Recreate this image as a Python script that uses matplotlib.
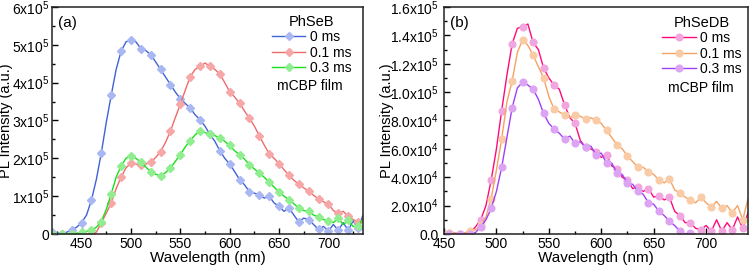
import numpy as np
import matplotlib
matplotlib.use("Agg")
import matplotlib.pyplot as plt
from matplotlib.ticker import MultipleLocator, FuncFormatter

plt.rcParams['font.family'] = ['Liberation Sans', 'DejaVu Sans']
plt.rcParams['mathtext.default'] = 'regular'

# ---- panel (a): PhSeB, intensities in units of 1e5 ----
wl_a = list(range(420, 740, 5))
phseb_0 = [0.05, 0.03, 0.0, 0.05, 0.1, 0.18, 0.3, 0.5, 0.9, 1.45,
           2.15, 2.95, 3.67, 4.35, 4.83, 5.08, 5.13, 5.08, 4.9, 4.85,
           4.74, 4.55, 4.35, 4.15, 3.95, 3.75, 3.58, 3.45, 3.33, 3.15,
           3.02, 2.85, 2.63, 2.45, 2.2, 2.0, 1.85, 1.65, 1.44, 1.3,
           1.12, 1.08, 1.03, 0.95, 1.0, 0.82, 0.73, 0.6, 0.69, 0.5,
           0.32, 0.42, 0.38, 0.25, 0.12, 0.2, 0.08, 0.25, 0.1, 0.3,
           0.1, 0.35, 0.15, 0.5]
phseb_01 = [0.0, 0.0, 0.0, 0.0, 0.0, 0.0, 0.0, 0.0, 0.0, 0.05,
            0.3, 0.55, 0.82, 1.2, 1.5, 1.75, 1.87, 1.85, 1.82, 1.85,
            1.9, 2.02, 2.18, 2.42, 2.72, 3.08, 3.43, 3.8, 4.16, 4.35,
            4.43, 4.52, 4.43, 4.35, 4.23, 4.0, 3.76, 3.62, 3.46, 3.25,
            3.06, 2.85, 2.6, 2.35, 2.12, 2.0, 1.86, 1.7, 1.55, 1.42,
            1.32, 1.22, 1.13, 1.02, 0.93, 0.85, 0.79, 0.62, 0.55, 0.6,
            0.47, 0.38, 0.33, 0.35]
phseb_03 = [0.0, 0.0, 0.0, 0.0, 0.0, 0.02, 0.05, 0.07, 0.1, 0.18,
            0.33, 0.65, 1.06, 1.5, 1.8, 2.0, 2.07, 2.0, 1.9, 1.77,
            1.65, 1.58, 1.54, 1.62, 1.75, 1.92, 2.1, 2.3, 2.47, 2.62,
            2.73, 2.68, 2.63, 2.6, 2.54, 2.45, 2.34, 2.2, 2.1, 1.98,
            1.83, 1.72, 1.61, 1.5, 1.37, 1.24, 1.11, 1.0, 0.91, 0.8,
            0.69, 0.62, 0.6, 0.5, 0.45, 0.38, 0.35, 0.3, 0.42, 0.25,
            0.36, 0.2, 0.2, 0.4]

# ---- panel (b): PhSeDB, intensities in units of 1e4 ----
wl_b = list(range(450, 745, 5))
phsedb_0 = [0.1, 0.1, 0.0, 0.0, 0.0, 0.1, 0.5, 1.0, 2.0, 3.8,
            6.0, 8.7, 11.2, 13.4, 14.5, 14.6, 14.8, 13.5, 13.0, 11.7,
            11.0, 10.5, 10.2, 9.1, 8.2, 7.8, 6.6, 6.1, 6.0, 5.8,
            5.4, 5.6, 4.8, 4.6, 4.0, 3.8, 3.2, 3.3, 3.0, 3.2,
            2.6, 2.7, 2.4, 2.6, 1.6, 1.3, 0.8, 0.8, 0.4, 0.3,
            0.6, 0.2, 1.0, 0.2, 0.8, 0.3, 1.2, 0.4, 1.5]
phsedb_01 = [0.1, 0.1, 0.1, 0.0, 0.1, 0.2, 0.3, 0.6, 1.2, 2.5,
             4.5, 6.7, 9.3, 10.8, 12.8, 13.7, 13.3, 12.6, 11.8, 11.0,
             9.7, 8.8, 8.6, 8.4, 8.2, 8.4, 8.3, 8.1, 8.2, 8.0,
             7.8, 7.3, 6.8, 6.3, 6.0, 5.5, 5.1, 4.7, 4.7, 4.4,
             4.2, 3.8, 3.6, 3.9, 3.1, 2.9, 2.6, 2.4, 2.2, 2.6,
             2.2, 1.9, 2.3, 1.8, 2.0, 1.5, 2.0, 1.0, 2.5]
phsedb_03 = [0.0, 0.0, 0.0, 0.0, 0.0, 0.0, 0.1, 0.5, 1.0, 1.8,
             3.0, 4.7, 6.8, 8.9, 10.3, 10.7, 10.5, 10.2, 9.5, 8.5,
             7.8, 7.4, 7.1, 6.7, 6.9, 6.4, 6.5, 6.1, 6.2, 5.6,
             5.7, 5.0, 5.0, 4.3, 4.2, 3.6, 3.5, 3.0, 2.8, 2.2,
             2.1, 1.6, 1.3, 0.9, 0.6, 0.2, 0.0, 0.1, 0.0, None,
             None, None, None, None, None, None, None, None, None]

labels = ['0 ms', '0.1 ms', '0.3 ms']


def style_axes(ax, ylab_x, ypad):
    ax.tick_params(which='both', direction='in', top=False, right=False,
                   labelsize=10, width=1)
    ax.tick_params(axis='x', pad=2)
    ax.tick_params(axis='y', pad=ypad)
    ax.tick_params(which='major', length=4)
    ax.tick_params(which='minor', length=2)
    for s in ax.spines.values():
        s.set_linewidth(1.1)
        s.set_color('#222222')
    ax.set_xlabel('Wavelength (nm)', fontsize=11, labelpad=0)
    ax.set_ylabel('PL Intensity (a.u.)', fontsize=10.5)
    ax.yaxis.set_label_coords(ylab_x, 0.5)


fig = plt.figure(figsize=(7.49, 2.66), dpi=100)

# panel (a)
ax1 = fig.add_axes([0.0694, 0.1203, 0.4152, 0.8534])
wa = np.array(wl_a)
ax1.plot(wa, np.array(phseb_0) * 1e5, '-', color='#3f62d8', lw=1,
         marker='D', ms=4.3, mfc='#a9b8f2', mec='#a9b8f2', markevery=2, label=labels[0])
ax1.plot(wa, np.array(phseb_01) * 1e5, '-', color='#f06a6a', lw=1,
         marker='D', ms=4.3, mfc='#f6a8a8', mec='#f6a8a8', markevery=2, label=labels[1])
ax1.plot(wa, np.array(phseb_03) * 1e5, '-', color='#18e018', lw=1,
         marker='D', ms=4.3, mfc='#90ee90', mec='#90ee90', markevery=2, label=labels[2])
ax1.set_xlim(420, 735)
ax1.set_ylim(0, 6e5)
ax1.xaxis.set_major_locator(MultipleLocator(50))
ax1.xaxis.set_minor_locator(MultipleLocator(25))
ax1.yaxis.set_major_locator(MultipleLocator(1e5))
ax1.yaxis.set_minor_locator(MultipleLocator(0.5e5))
ax1.yaxis.set_major_formatter(FuncFormatter(
    lambda v, p: '0' if v == 0 else '%dx10$^{5}$' % round(v / 1e5)))
style_axes(ax1, -0.125, 2)
ax1.text(0.02, 0.93, '(a)', transform=ax1.transAxes, fontsize=11, va='center')
ax1.legend(loc='upper left', bbox_to_anchor=(0.69, 0.99), frameon=False,
           title='PhSeB', fontsize=10, title_fontsize=10.5, handlelength=2.4,
           handletextpad=0.3, labelspacing=0.1, borderaxespad=0.2, borderpad=0.2)
ax1.text(0.722, 0.652, 'mCBP film', transform=ax1.transAxes, fontsize=10, va='center')

# panel (b)
ax2 = fig.add_axes([0.5928, 0.1203, 0.4059, 0.8534])
wb = np.array(wl_b)
ax2.plot(wb, np.array(phsedb_0) * 1e4, '-', color='#ff0a78', lw=1,
         marker='o', ms=4.8, mfc='#f2a6e0', mec='#f2a6e0', markevery=(1, 2), label=labels[0])
ax2.plot(wb, np.array(phsedb_01) * 1e4, '-', color='#f5a262', lw=1,
         marker='o', ms=4.8, mfc='#f9cba6', mec='#f9cba6', markevery=(1, 2), label=labels[1])
ax2.plot(wb, np.array(phsedb_03, dtype=float) * 1e4, '-', color='#a040f5', lw=1,
         marker='o', ms=4.8, mfc='#dca4f2', mec='#dca4f2', markevery=(1, 2), label=labels[2])
ax2.set_xlim(450, 740)
ax2.set_ylim(0, 1.6e5)
ax2.xaxis.set_major_locator(MultipleLocator(50))
ax2.xaxis.set_minor_locator(MultipleLocator(25))
ax2.yaxis.set_major_locator(MultipleLocator(2e4))
ax2.yaxis.set_minor_locator(MultipleLocator(1e4))


def fmt_b(v, p):
    if v == 0:
        return '0.0'
    if v >= 1e5 - 1:
        return '%.1fx10$^{5}$' % (v / 1e5)
    return '%.1fx10$^{4}$' % (v / 1e4)


ax2.yaxis.set_major_formatter(FuncFormatter(fmt_b))
style_axes(ax2, -0.165, 4)
ax2.text(0.02, 0.93, '(b)', transform=ax2.transAxes, fontsize=11, va='center')
ax2.legend(loc='upper left', bbox_to_anchor=(0.7, 0.985), frameon=False,
           title='PhSeDB', fontsize=10, title_fontsize=10.5, handlelength=2.4,
           handletextpad=0.3, labelspacing=0.1, borderaxespad=0.2, borderpad=0.2)
ax2.text(0.737, 0.643, 'mCBP film', transform=ax2.transAxes, fontsize=10, va='center')

fig.savefig('out.png', dpi=100)
